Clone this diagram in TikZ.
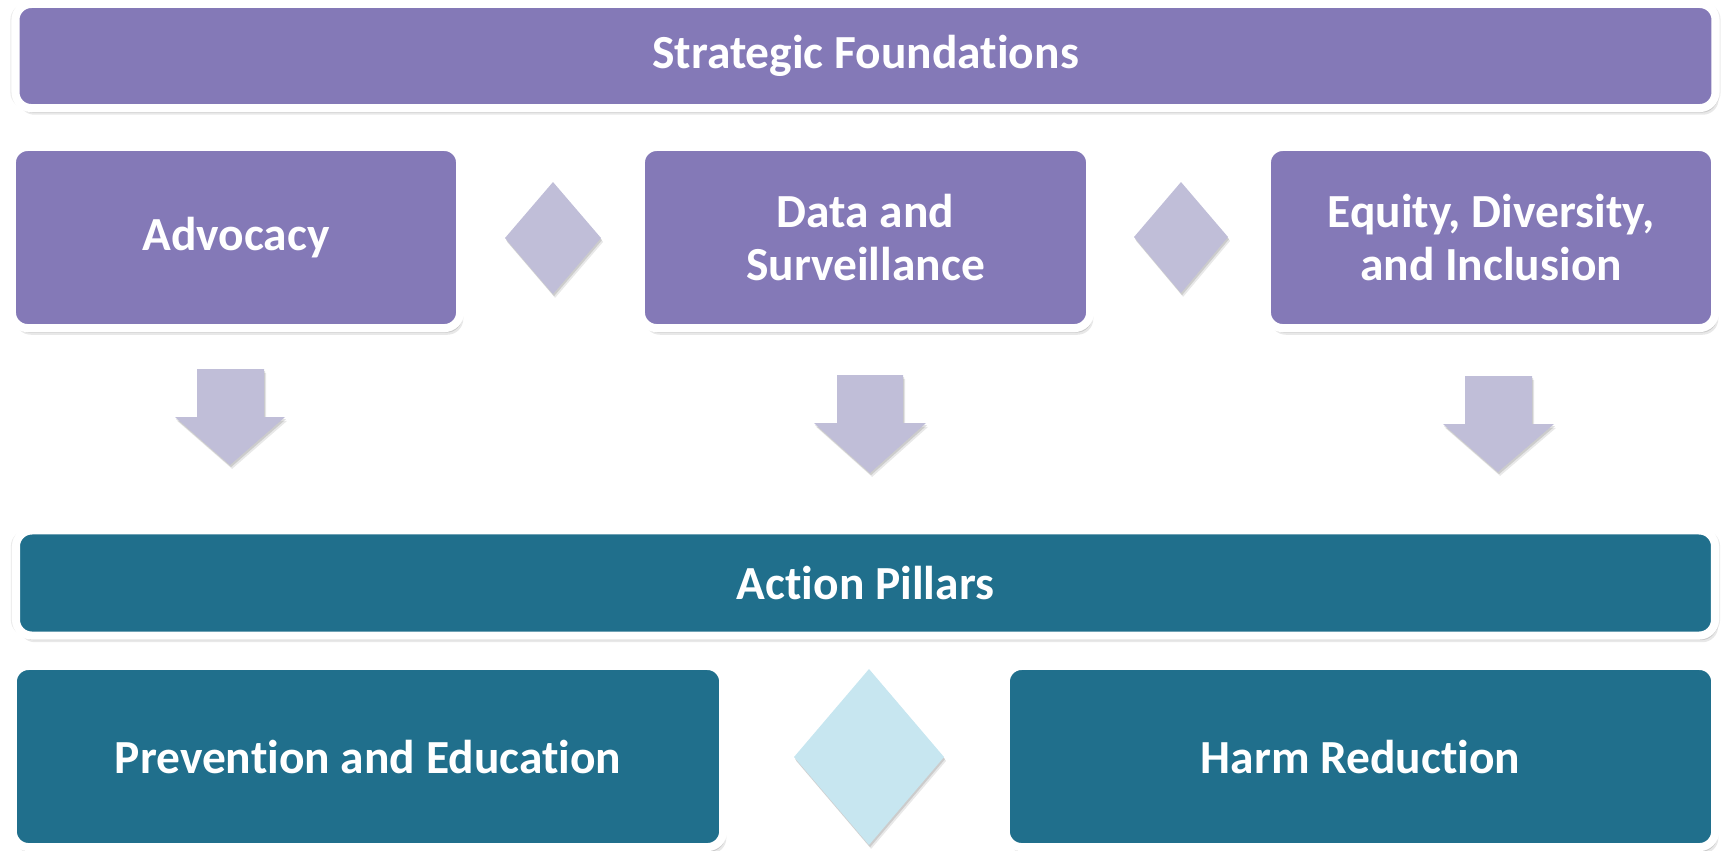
\documentclass[tikz,border=0pt]{standalone}
\usepackage{fontspec}
\setmainfont{Carlito}[Ligatures=NoCommon]
\usetikzlibrary{shadows}
\definecolor{fpurple}{RGB}{132,121,183}
\definecolor{lpurple}{RGB}{192,190,216}
\definecolor{fteal}{RGB}{32,111,140}
\definecolor{lblue}{RGB}{199,230,240}
\begin{document}
\begin{tikzpicture}[x=0.01cm,y=-0.01cm,
  softshadow/.style={
    drop shadow={shadow xshift=0pt, shadow yshift=0pt, shadow scale=1.006, opacity=0.08, fill=black},
    drop shadow={shadow xshift=0.3pt, shadow yshift=-0.7pt, opacity=0.13, fill=black},
    drop shadow={shadow xshift=0.6pt, shadow yshift=-1.3pt, opacity=0.13, fill=black},
    drop shadow={shadow xshift=0.9pt, shadow yshift=-1.9pt, opacity=0.09, fill=black}},
  basebox/.style={rectangle, rounded corners=4.5pt, draw=white, line width=2.28pt,
    inner sep=0pt, align=center, text=white,
    font=\bfseries\fontsize{13.5}{15}\selectfont, softshadow},
  pbox/.style={basebox, fill=fpurple},
  tbox/.style={basebox, fill=fteal},
  lightshadow/.style={
    drop shadow={shadow xshift=0.3pt, shadow yshift=-0.6pt, opacity=0.12, fill=black},
    drop shadow={shadow xshift=0.6pt, shadow yshift=-1.1pt, opacity=0.09, fill=black}},
  pdia/.style={fill=lpurple, lightshadow},
  bdia/.style={fill=lblue, lightshadow},
  darrow/.style={fill=lpurple, lightshadow}
]
\useasboundingbox (0,0) rectangle (1723,850);

% Strategic Foundations
\node[pbox, minimum width=16.99cm, minimum height=1.04cm] (sf) at (865.5,56) {Strategic Foundations};
\node[pbox, minimum width=4.48cm, minimum height=1.81cm] (adv) at (236,237.5) {Advocacy};
\node[pbox, minimum width=4.49cm, minimum height=1.81cm] (data) at (865.5,237.5) {Data and\\Surveillance};
\node[pbox, minimum width=4.48cm, minimum height=1.81cm] (edi) at (1491,237.5) {Equity, Diversity,\\and Inclusion};

% diamonds between foundations
\fill[pdia] (553,182) -- (601,238) -- (553,294) -- (505,238) -- cycle;
\fill[pdia] (1181,182) -- (1228,237) -- (1181,293) -- (1134,237) -- cycle;

% down arrows
\fill[darrow] (197,369) -- (264,369) -- (264,417) -- (285,417) -- (230,465) -- (175,417) -- (197,417) -- cycle;
\fill[darrow] (837,375) -- (903,375) -- (903,423) -- (926,423) -- (870,473) -- (814,423) -- (837,423) -- cycle;
\fill[darrow] (1465,376) -- (1532,376) -- (1532,424) -- (1554,424) -- (1498,472) -- (1443,424) -- (1465,424) -- cycle;

% Action Pillars
\node[tbox, minimum width=16.98cm, minimum height=1.05cm] (ap) at (865.5,583) {Action Pillars};
\node[tbox, minimum width=7.10cm, minimum height=1.81cm] (pe) at (368,756.5) {Prevention and Education};
\node[tbox, minimum width=7.09cm, minimum height=1.81cm] (hr) at (1360.5,756.5) {Harm Reduction};

\fill[bdia] (869,669) -- (944,757) -- (869,845) -- (794,757) -- cycle;
\end{tikzpicture}
\end{document}
